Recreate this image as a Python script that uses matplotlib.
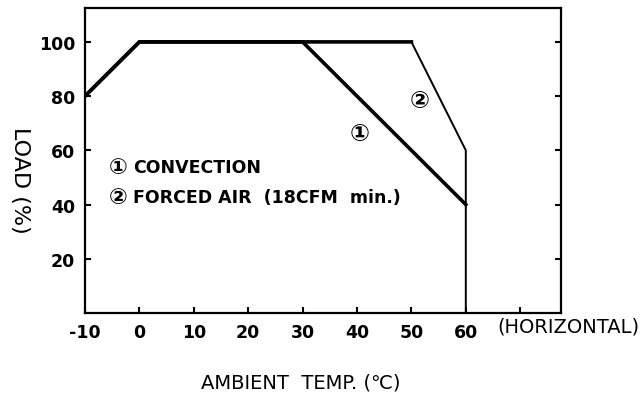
import matplotlib.pyplot as plt

plt.rcParams['font.family'] = ['DejaVu Sans', 'Noto Sans CJK SC']

# derating curves
temp_conv = [-10, 0, 30, 60]
load_conv = [80, 100, 100, 40]
temp_air = [-10, 0, 50, 60, 60]
load_air = [80, 100, 100, 60, 0]

x_ticks = [-10, 0, 10, 20, 30, 40, 50, 60, 70]
x_labels = ['-10', '0', '10', '20', '30', '40', '50', '60', '']
y_ticks = [20, 40, 60, 80, 100]

fig = plt.figure(figsize=(6.4, 4.02), dpi=100)
ax = fig.add_axes([85 / 640, 1 - 314 / 402, 476 / 640, 305 / 402])

ax.plot(temp_conv, load_conv, color='black', lw=2.6, solid_joinstyle='miter')
ax.plot(temp_air[:3], load_air[:3], color='black', lw=2.6, solid_joinstyle='miter')
ax.plot(temp_air[2:], load_air[2:], color='black', lw=1.4, solid_joinstyle='miter')

ax.set_xlim(-10, 77.5)
ax.set_ylim(0, 112.5)
ax.set_xticks(x_ticks)
ax.set_xticklabels(x_labels)
ax.set_yticks(y_ticks)
ax.tick_params(direction='in', length=4, width=1.5, right=True,
               labelsize=12.5, pad=7)
for lab in ax.get_xticklabels() + ax.get_yticklabels():
    lab.set_fontweight('bold')
for sp in ax.spines.values():
    sp.set_linewidth(1.6)

ax.text(40.5, 66.5, '①', fontsize=17, fontweight='bold', ha='center', va='center')
ax.text(51.5, 78.5, '②', fontsize=17, fontweight='bold', ha='center', va='center')
ax.text(-5.6, 53.8, '①', fontsize=16, fontweight='bold', ha='left', va='center')
ax.text(-5.6, 42.8, '②', fontsize=16, fontweight='bold', ha='left', va='center')
ax.text(-1.2, 53.8, 'CONVECTION', fontsize=12.5, fontweight='bold', va='center')
ax.text(-1.2, 42.8, 'FORCED AIR  (18CFM  min.)', fontsize=12.5, fontweight='bold', va='center')

fig.text(497 / 640, 1 - 327 / 402, '(HORIZONTAL)', fontsize=14, va='center')
fig.text(301 / 640, 1 - 383 / 402, 'AMBIENT  TEMP. (℃)', fontsize=14,
         ha='center', va='center')
fig.text(20 / 640, 1 - 180 / 402, 'LOAD (%)', fontsize=16, rotation=-90,
         ha='center', va='center')

fig.savefig('out.png', dpi=100, facecolor='white')
